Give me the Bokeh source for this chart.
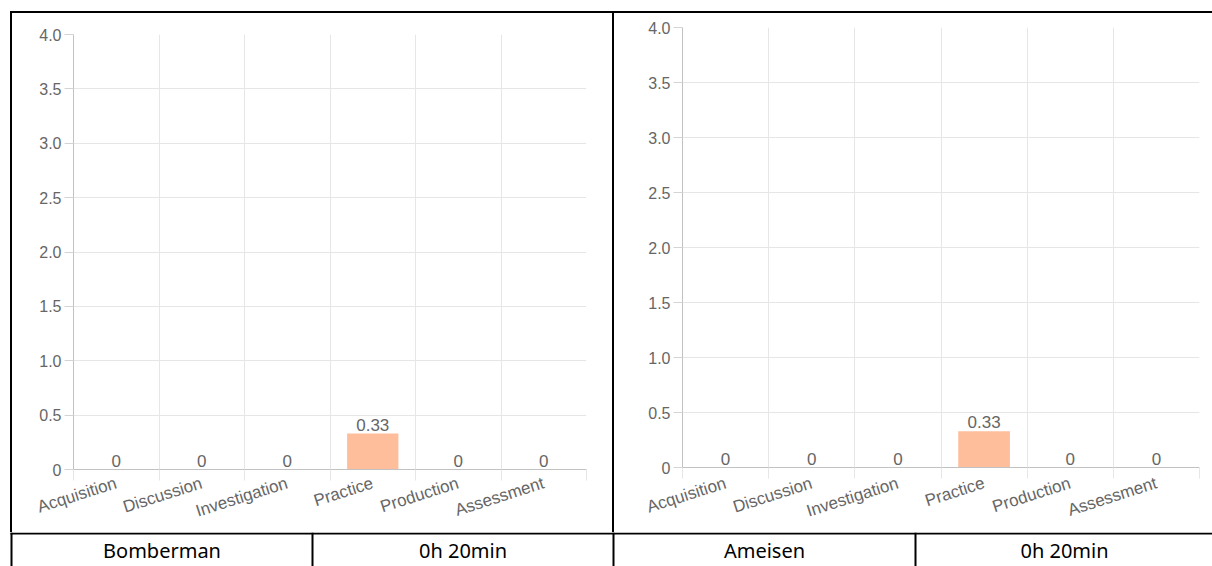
from bokeh.plotting import figure
from bokeh.layouts import column, row
from bokeh.models import Range1d, FixedTicker, NumeralTickFormatter, ColumnDataSource, Spacer
from bokeh.core.properties import value
from bokeh.embed import file_html
from bokeh.resources import INLINE

# ---------------- data ----------------
categories = ["Acquisition", "Discussion", "Investigation", "Practice", "Production", "Assessment"]
bomberman_values = [0, 0, 0, 0.33, 0, 0]
ameisen_values = [0, 0, 0, 0.33, 0, 0]
y_ticks = [0, 0.5, 1.0, 1.5, 2.0, 2.5, 3.0, 3.5, 4.0]
game_names = ["Bomberman", "Ameisen"]
durations = ["0h 20min", "0h 20min"]

# ---------------- styles ----------------
BAR_COLOR = "#ffbe9b"
GRID = "#e6e6e6"
AXIS = "#c2c2c2"
TXT = "#666666"
FONT = "Liberation Sans"


def make_chart(values, width, height, ml, mr, mt, mb, standoff):
    n = len(categories)
    centers = [i + 0.5 for i in range(n)]
    src = ColumnDataSource(dict(x=centers, top=values, label=[f"{v:g}" for v in values]))
    p = figure(width=width, height=height, x_range=Range1d(0, n), y_range=Range1d(0, 4),
               output_backend="svg", toolbar_location=None,
               min_border_left=ml, min_border_right=mr, min_border_top=mt, min_border_bottom=mb)
    p.outline_line_color = None
    p.background_fill_color = "white"
    p.border_fill_color = "white"

    xt = FixedTicker(ticks=centers, minor_ticks=list(range(n + 1)))
    p.xaxis.ticker = xt
    p.xgrid.ticker = xt
    p.xgrid.grid_line_color = None
    p.xgrid.minor_grid_line_color = GRID
    p.xaxis.major_label_overrides = {c: cat for c, cat in zip(centers, categories)}
    p.xaxis.major_tick_out = 0
    p.xaxis.major_tick_in = 0
    p.xaxis.minor_tick_out = 11
    p.xaxis.minor_tick_in = 0
    p.xaxis.minor_tick_line_color = GRID
    p.xaxis.axis_line_color = AXIS
    p.xaxis.major_label_orientation = 0.31
    p.xaxis.major_label_standoff = standoff
    p.xaxis.major_label_text_font = FONT
    p.xaxis.major_label_text_font_size = "17px"
    p.xaxis.major_label_text_color = TXT

    yt = FixedTicker(ticks=y_ticks, minor_ticks=[])
    p.yaxis.ticker = yt
    p.ygrid.ticker = yt
    p.ygrid.grid_line_color = GRID
    p.yaxis.formatter = NumeralTickFormatter(format="0.0")
    p.yaxis.major_label_overrides = {0: "0"}
    p.yaxis.major_tick_out = 9
    p.yaxis.major_tick_in = 0
    p.yaxis.major_tick_line_color = "#d4d4d4"
    p.yaxis.minor_tick_line_color = None
    p.yaxis.axis_line_color = AXIS
    p.yaxis.major_label_standoff = 3
    p.yaxis.major_label_text_font = FONT
    p.yaxis.major_label_text_font_size = "16px"
    p.yaxis.major_label_text_color = TXT

    p.vbar(x="x", top="top", width=0.6, source=src, fill_color=BAR_COLOR, line_color=None)
    p.text(x="x", y="top", text="label", source=src, text_align="center",
           text_baseline="alphabetic", y_offset=-9, text_color=TXT,
           text_font=value(FONT), text_font_size="17px")
    return p


def vline(w, h):
    return Spacer(width=w, height=h, styles={"background-color": "black"})


figL = make_chart(bomberman_values, 600, 519, 61, 26, 21, 63, 2)
figR = make_chart(ameisen_values, 598, 519, 68, 13, 14, 65, 4)

# bottom row of the table (names and durations)
bottom = figure(width=1212, height=34, x_range=Range1d(0, 1212), y_range=Range1d(566, 532),
                output_backend="svg", toolbar_location=None,
                x_axis_location=None, y_axis_location=None, min_border=0)
bottom.grid.grid_line_color = None
bottom.outline_line_color = None
bottom.background_fill_color = "white"
bottom.border_fill_color = "white"
bottom.quad(left=[10, 10, 311, 612, 914], right=[1212, 12, 313, 614, 916],
            top=[532, 532, 532, 532, 532], bottom=[534, 566, 566, 566, 566],
            fill_color="black", line_color=None)
cell_texts = [game_names[0], durations[0], game_names[1], durations[1]]
cell_x = [161.5, 462.5, 764, 1064]
bottom.text(x=cell_x, y=[550] * 4, text=cell_texts, text_align="center",
            text_baseline="middle", text_color="black",
            text_font=value("Noto Sans"), text_font_size="20px")

layout = column(
    Spacer(width=1212, height=11),
    row(Spacer(width=10, height=2), vline(1202, 2)),
    row(Spacer(width=10, height=519), vline(2, 519),
        column(Spacer(width=600, height=0), figL),
        vline(2, 519),
        column(Spacer(width=598, height=0), figR)),
    bottom,
)

open("out.html", "w").write(file_html(layout, INLINE))
